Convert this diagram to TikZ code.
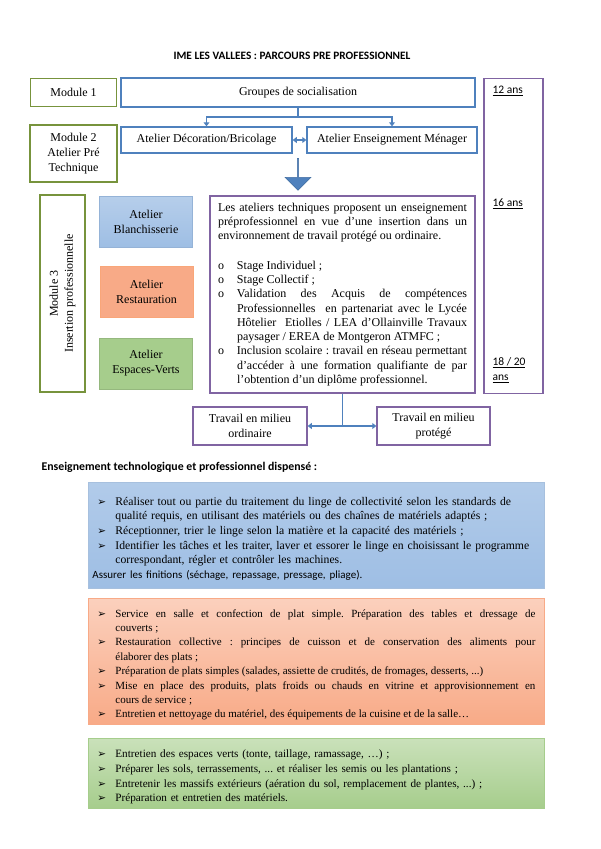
\documentclass[tikz,border=0pt]{standalone}
\usepackage{fontspec}
\setmainfont{Liberation Serif}
\newfontfamily\calibri{Carlito}
\newfontfamily\symb{DejaVu Sans}
\usetikzlibrary{shapes.arrows, arrows.meta, positioning}
\definecolor{vertbord}{RGB}{119,147,60}
\definecolor{bleubord}{RGB}{79,129,189}
\definecolor{violbord}{RGB}{128,100,162}
\definecolor{bleuclair}{RGB}{158,190,228}
\definecolor{orangeclair}{RGB}{248,170,135}
\definecolor{vertclair}{RGB}{166,205,140}
\frenchspacing
% puces des listes
\newcommand{\puceo}{\par\noindent\hangindent=19pt\hangafter=1\makebox[19pt][l]{o}}
\newcommand{\pucefl}{\par\noindent\hangindent=18pt\hangafter=1\makebox[18pt][l]{\symb\fontsize{10.5}{10.5}\selectfont ➢}}
\tikzset{
    modbox/.style={rectangle, draw=vertbord, line width=1.5pt, align=center, inner sep=0pt},
    bleubox/.style={rectangle, draw=bleubord, line width=1.5pt, align=center, inner sep=0pt},
    violbox/.style={rectangle, draw=violbord, line width=1.5pt, align=center, inner sep=0pt},
    atelier/.style={rectangle, minimum width=93pt, minimum height=51pt, align=center, line width=0.8pt},
    age/.style={anchor=west, align=left, font=\calibri\fontsize{11.5}{15}\selectfont},
    liste/.style={rectangle, anchor=north west, minimum width=456pt, text width=438pt, inner xsep=9pt, line width=0.8pt},
    conn/.style={draw=bleubord, line width=1.5pt},
    fleche/.style={conn, -{Triangle[length=4pt, width=6pt]}}
}
\begin{document}
\begin{tikzpicture}[x=1pt, y=-1pt, font=\fontsize{12}{15}\selectfont]
    \useasboundingbox (0,0) rectangle (600,849);

    \node[font=\calibri\bfseries\fontsize{11.3}{13}\selectfont] (titre) at (292,56) {IME LES VALLEES : PARCOURS PRE PROFESSIONNEL};

    % modules a gauche
    \node[modbox, minimum width=86pt, minimum height=28pt] (mod1) at (73.5,92.5) {Module 1};
    \node[modbox, minimum width=87pt, minimum height=57pt] (mod2) at (73.5,153.5) {Module 2\\Atelier Pré\\Technique};
    \node[modbox, rotate=90, minimum width=197pt, minimum height=45pt] (mod3) at (62.5,293.5) {Module 3\\Insertion professionnelle};

    % parcours
    \node[bleubox, minimum width=354pt, minimum height=29pt] (groupes) at (298,92.5) {Groupes de socialisation};
    \node[bleubox, minimum width=171pt, minimum height=26pt] (deco) at (206.5,140) {Atelier Décoration/Bricolage};
    \node[bleubox, minimum width=170pt, minimum height=26pt] (menager) at (392,140) {Atelier Enseignement Ménager};
    \coordinate (split) at (298,117);
    \draw[conn] (groupes.south) -- (split);
    \draw[fleche] (split) -| (deco.north);
    \draw[fleche] (split) -| (menager.north);
    \draw[conn, {Triangle[length=4pt, width=6pt]}-{Triangle[length=4pt, width=6pt]}] (deco.east) -- (menager.west);

    \node[single arrow, shape border rotate=270, fill=bleubord, draw=bleubord!85!black, line width=0.6pt,
          minimum height=32pt, minimum width=26pt, single arrow head extend=6pt, inner sep=0pt] (descente) at (298,174) {};

    % ateliers
    \node[atelier, draw=bleubord!60, top color=bleuclair!75, bottom color=bleuclair] (blanch) at (146,221.5) {Atelier\\Blanchisserie};
    \node[atelier, draw=orangeclair!90!orange, fill=orangeclair] (resto) at (146.5,292) {Atelier\\Restauration};
    \node[atelier, draw=vertclair!90!black, fill=vertclair] (verts) at (146,363.5) {Atelier\\Espaces-Verts};

    \node[violbox, minimum width=265pt, minimum height=197pt, text width=249pt, align=justify, inner xsep=8pt,
          font=\fontsize{12}{14.3}\selectfont] (desc) at (342.5,294.5) {%
        Les ateliers techniques proposent un enseignement\linebreak
        préprofessionnel en vue d’une insertion dans un\linebreak
        environnement de travail protégé ou ordinaire.\par
        \vspace{15pt}
        \puceo Stage Individuel ;
        \puceo Stage Collectif ;
        \puceo Validation des Acquis de compétences\linebreak
        Professionnelles\ \ en partenariat avec le Lycée\linebreak
        Hôtelier\ \ Etiolles / LEA d’Ollainville Travaux\linebreak
        paysager / EREA de Montgeron ATMFC ;
        \puceo Inclusion scolaire : travail en réseau permettant\linebreak
        d’accéder à une formation qualifiante de par\linebreak
        l’obtention d’un diplôme professionnel.\par};

    % ages
    \node[violbox, minimum width=59pt, minimum height=315pt] (ages) at (513.5,236) {};
    \node[age] (a12) at (489,91) {\underline{12 ans}};
    \node[age] (a16) at (489,204) {\underline{16 ans}};
    \node[age] (a18) at (489,370) {\underline{18 / 20}\\\underline{ans}};

    % sorties
    \node[violbox, minimum width=114pt, minimum height=38pt] (ordinaire) at (250,426) {Travail en milieu\\ordinaire};
    \node[violbox, minimum width=113pt, minimum height=38pt] (protege) at (433.5,426) {Travail en milieu\\protégé};
    \coordinate (sortie) at (desc.south |- ordinaire.east);
    \draw[conn] (desc.south) -- (sortie);
    \draw[fleche] (sortie) -- (ordinaire.east);
    \draw[fleche] (sortie) -- (protege.west);

    \node[anchor=west, font=\calibri\bfseries\fontsize{11.8}{13}\selectfont] (dispense) at (38,467) {Enseignement technologique et professionnel dispensé :};

    % listes par atelier
    \node[liste, minimum height=106pt, align=left, draw=bleubord!50, top color=bleuclair!80, bottom color=bleuclair,
          font=\fontsize{11.7}{14.6}\selectfont] (lblanch) at (88,482) {%
        \pucefl Réaliser tout ou partie du traitement du linge de collectivité selon les standards de\newline
        qualité requis, en utilisant des matériels ou des chaînes de matériels adaptés ;
        \pucefl Réceptionner, trier le linge selon la matière et la capacité des matériels ;
        \pucefl Identifier les tâches et les traiter, laver et essorer le linge en choisissant le programme\newline
        correspondant, régler et contrôler les machines.
        \par\noindent\hspace*{-5pt}{\calibri\fontsize{11}{13}\selectfont Assurer les finitions (séchage, repassage, pressage, pliage).}\par};
    \node[liste, minimum height=126pt, align=justify, draw=orangeclair, top color=orangeclair!55, bottom color=orangeclair,
          font=\fontsize{11}{14.4}\selectfont] (lresto) at (88,598) {%
        \pucefl Service en salle et confection de plat simple. Préparation des tables et dressage de\linebreak
        couverts ;
        \pucefl Restauration collective : principes de cuisson et de conservation des aliments pour\linebreak
        élaborer des plats ;
        \pucefl Préparation de plats simples (salades, assiette de crudités, de fromages, desserts, ...)
        \pucefl Mise en place des produits, plats froids ou chauds en vitrine et approvisionnement en\linebreak
        cours de service ;
        \pucefl Entretien et nettoyage du matériel, des équipements de la cuisine et de la salle…\par};
    \node[liste, minimum height=70pt, align=left, draw=vertclair, top color=vertclair!60, bottom color=vertclair,
          font=\fontsize{11.2}{14.8}\selectfont] (lverts) at (88,738) {%
        \pucefl Entretien des espaces verts (tonte, taillage, ramassage, …) ;
        \pucefl Préparer les sols, terrassements, ... et réaliser les semis ou les plantations ;
        \pucefl Entretenir les massifs extérieurs (aération du sol, remplacement de plantes, ...) ;
        \pucefl Préparation et entretien des matériels.\par\vspace{12pt}};
\end{tikzpicture}
\end{document}
